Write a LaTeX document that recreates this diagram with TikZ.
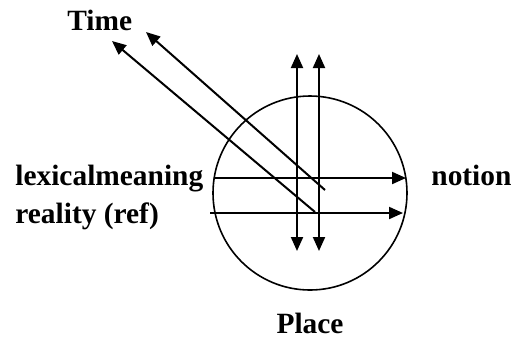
\documentclass[tikz,border=0pt]{standalone}
\usepackage{fontspec}
\setmainfont{Liberation Serif}
\usetikzlibrary{arrows.meta}

\tikzset{
label/.style={font=\fontsize{14.7}{17}\selectfont\bfseries, inner sep=0pt},
arr/.style={line width=1pt, -{Triangle[length=7pt,width=6pt]}}
}

\begin{document}
\begin{tikzpicture}[x=0.5pt,y=-0.5pt]

\useasboundingbox (0,0) rectangle (514,345);

%%%%%%%%%%%%%%%%%%%%%%%%%%%%%%%%%%%%%%%%%%%%%%%%%%%%%%%%%%
% SIGN CIRCLE
%%%%%%%%%%%%%%%%%%%%%%%%%%%%%%%%%%%%%%%%%%%%%%%%%%%%%%%%%%

\node[
draw,
circle,
line width=0.8pt,
inner sep=0pt,
minimum size=97pt
](sign)
at (310,193)
{};

%%%%%%%%%%%%%%%%%%%%%%%%%%%%%%%%%%%%%%%%%%%%%%%%%%%%%%%%%%
% LABELS
%%%%%%%%%%%%%%%%%%%%%%%%%%%%%%%%%%%%%%%%%%%%%%%%%%%%%%%%%%

\node[label, anchor=base west](time) at (67,30) {Time};
\node[label, anchor=base west](lexical) at (15,185) {lexicalmeaning};
\node[label, anchor=base west](reality) at (15,223) {reality (ref)};
\node[label, anchor=base west](notion) at (431,185) {notion};
\node[label, anchor=base](place) at (310,333) {Place};

%%%%%%%%%%%%%%%%%%%%%%%%%%%%%%%%%%%%%%%%%%%%%%%%%%%%%%%%%%
% ARROW ENDS
%%%%%%%%%%%%%%%%%%%%%%%%%%%%%%%%%%%%%%%%%%%%%%%%%%%%%%%%%%

\coordinate (lexS) at (215,178);
\coordinate (lexE) at (406,178);
\coordinate (refS) at (210,213);
\coordinate (refE) at (403,213);

\coordinate (timeAS) at (325,190);
\coordinate (timeAE) at (146,32);
\coordinate (timeBS) at (315,212);
\coordinate (timeBE) at (112,41);

\coordinate (placeAT) at (297,54);
\coordinate (placeAB) at (297,251);
\coordinate (placeBT) at (319,54);
\coordinate (placeBB) at (319,251);
\coordinate (placeM) at (297,152);
\coordinate (placeN) at (319,152);

%%%%%%%%%%%%%%%%%%%%%%%%%%%%%%%%%%%%%%%%%%%%%%%%%%%%%%%%%%
% CONNECTIONS
%%%%%%%%%%%%%%%%%%%%%%%%%%%%%%%%%%%%%%%%%%%%%%%%%%%%%%%%%%

\draw[arr] (lexS)--(lexE);
\draw[arr] (refS)--(refE);

\draw[arr] (timeAS)--(timeAE);
\draw[arr] (timeBS)--(timeBE);

\draw[arr] (placeM)--(placeAT);
\draw[arr] (placeM)--(placeAB);
\draw[arr] (placeN)--(placeBT);
\draw[arr] (placeN)--(placeBB);

\end{tikzpicture}
\end{document}
